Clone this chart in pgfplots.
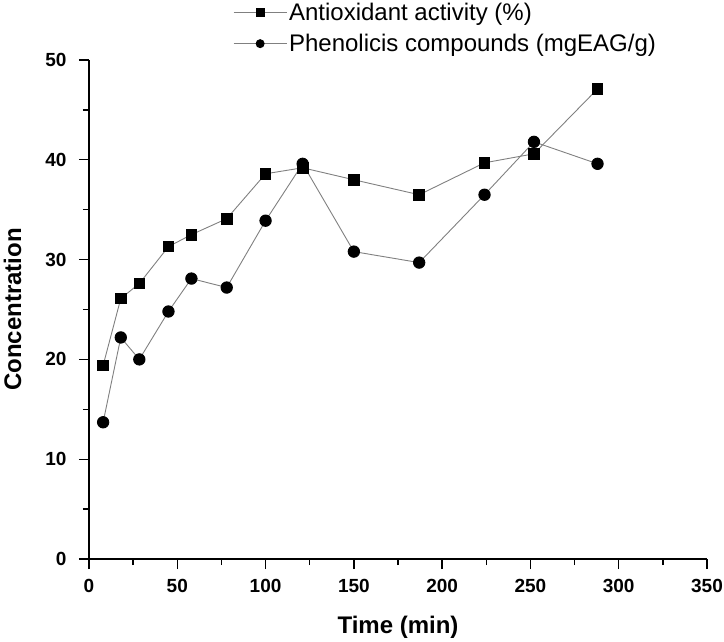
\documentclass[border=0pt]{standalone}
\usepackage{fontspec}
\setmainfont{Liberation Sans}
\usepackage{pgfplots}
\pgfplotsset{compat=1.18}
\begin{document}
\begin{tikzpicture}
\useasboundingbox (-89pt,-82pt) rectangle (635pt,559pt);
\begin{axis}[
  at={(0pt,0pt)}, anchor=south west,
  scale only axis, width=618pt, height=499pt,
  xmin=0, xmax=350, ymin=0, ymax=50,
  axis x line*=bottom, axis y line*=left,
  axis line style={line width=1.6pt, black},
  xtick distance=50, ytick distance=10,
  minor x tick num=1, minor y tick num=1,
  tick align=outside,
  major tick length=10pt, minor tick length=6pt,
  every tick/.style={line width=1.3pt, black},
  /pgf/number format/assume math mode=true,
  ticklabel style={font=\fontsize{19}{22}\selectfont\bfseries},
  xticklabel style={yshift=-7pt},
  yticklabel style={xshift=-9pt},
  xlabel={Time (min)},
  ylabel={Concentration},
  xlabel style={font=\fontsize{24}{28}\selectfont\bfseries, at={(axis description cs:0.5,-0.150)}, anchor=base},
  ylabel style={font=\fontsize{24}{28}\selectfont\bfseries, at={(axis description cs:-0.110,0.5)}, anchor=base},
  clip=false,
  legend cell align=left,
  legend style={draw=none, fill=none, at={(rel axis cs:0.233,1.118)}, anchor=north west,
    font=\fontsize{24}{28}\selectfont, row sep=8pt, inner sep=0pt},
  legend image code/.code={\draw[mark repeat=2,mark phase=2,mark size=4pt] plot coordinates {(0pt,0pt)(26.5pt,0pt)(53pt,0pt)};},
]
\addplot[gray, line width=0.9pt, mark=square*, mark size=5.3pt, mark options={black, fill=black, solid}]
coordinates {
(8,19.4) (18,26.1) (28.5,27.6) (45,31.3) (58,32.5) (78,34.1) (100,38.6) (121,39.2) (150,38.0) (187,36.5) (224,39.7) (252,40.6) (288,47.1)
};
\addlegendentry{Antioxidant activity (\%)}
\addplot[gray, line width=0.9pt, mark=*, mark size=5.7pt, mark options={black, fill=black, solid}]
coordinates {
(8,13.7) (18,22.2) (28.5,20.0) (45,24.8) (58,28.1) (78,27.2) (100,33.9) (121,39.6) (150,30.8) (187,29.7) (224,36.5) (252,41.8) (288,39.6)
};
\addlegendentry{Phenolicis compounds (mgEAG/g)}
\end{axis}
\end{tikzpicture}
\end{document}
